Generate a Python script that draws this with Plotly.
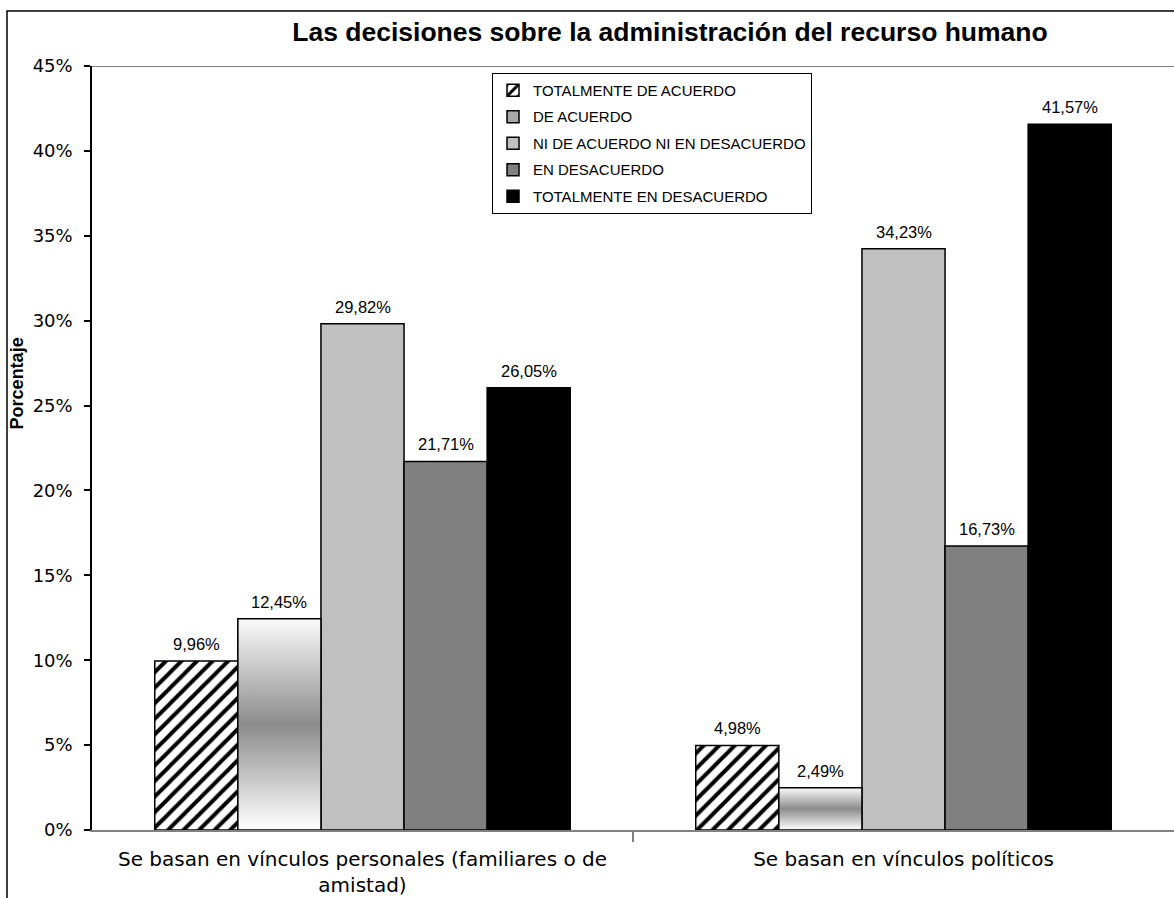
import plotly.graph_objects as go

# ---- data -------------------------------------------------------------
categories = [
    "Se basan en vínculos personales (familiares o de<br>amistad)",
    "Se basan en vínculos políticos",
]
series_names = [
    "TOTALMENTE DE ACUERDO",
    "DE ACUERDO",
    "NI DE ACUERDO NI EN DESACUERDO",
    "EN DESACUERDO",
    "TOTALMENTE EN DESACUERDO",
]
totalmente_de_acuerdo = [9.96, 4.98]
de_acuerdo = [12.45, 2.49]
ni_de_acuerdo_ni_en_desacuerdo = [29.82, 34.23]
en_desacuerdo = [21.71, 16.73]
totalmente_en_desacuerdo = [26.05, 41.57]
y_ticks = [0, 5, 10, 15, 20, 25, 30, 35, 40, 45]
y_tick_labels = ["0%", "5%", "10%", "15%", "20%", "25%", "30%", "35%", "40%", "45%"]

series_values = [
    totalmente_de_acuerdo,
    de_acuerdo,
    ni_de_acuerdo_ni_en_desacuerdo,
    en_desacuerdo,
    totalmente_en_desacuerdo,
]

# ---- bar geometry on a numeric category axis --------------------------
x_pos = list(range(len(categories)))
BAR_GAP = 0.232
n_series = len(series_values)
bar_w = (1 - BAR_GAP) / n_series


def left_offset(i):
    return -(1 - BAR_GAP) / 2 + i * bar_w


GRAD_SCALE = [[0.0, "#ffffff"], [0.5, "#8c8c8c"], [1.0, "#fbfbfb"]]
OUTLINE = dict(color="#000000", width=1.5)

fig = go.Figure()

styles = [
    dict(color="#ffffff",
         pattern=dict(shape="/", fgcolor="#000000", bgcolor="#ffffff",
                      fgopacity=1, fillmode="replace",
                      size=11, solidity=0.36)),
    dict(color="#a8a8a8"),
    dict(color="#c0c0c0"),
    dict(color="#808080"),
    dict(color="#000000"),
]

for i, (name, vals) in enumerate(zip(series_names, series_values)):
    fig.add_trace(go.Bar(
        x=x_pos, y=vals, name=name,
        width=bar_w, offset=left_offset(i),
        marker=dict(line=OUTLINE, **styles[i]),
        legendgroup=name,
        hoverinfo="name+y",
    ))

# vertical metallic shading for the "DE ACUERDO" bars
for xc, v in zip(x_pos, de_acuerdo):
    x0 = xc + left_offset(1)
    x1 = x0 + bar_w
    fig.add_trace(go.Scatter(
        x=[x0, x1, x1, x0, x0], y=[0, 0, v, v, 0],
        mode="lines", fill="toself",
        fillgradient=dict(type="vertical", colorscale=GRAD_SCALE),
        line=OUTLINE, showlegend=False, hoverinfo="skip",
    ))

# value labels above each bar
annotations = []
for i, vals in enumerate(series_values):
    for xc, v in zip(x_pos, vals):
        annotations.append(dict(
            x=xc + left_offset(i) + bar_w / 2, y=v,
            xref="x", yref="y",
            text=f"{v:.2f}".replace(".", ",") + "%",
            showarrow=False, yanchor="bottom", yshift=6,
            font=dict(family="Liberation Sans, Arial", size=16.5, color="#000000"),
        ))

# y axis title
annotations.append(dict(
    x=-0.069, y=0.585, xref="paper", yref="paper",
    xanchor="center", yanchor="middle",
    text="<b>Porcentaje</b>", textangle=-90, showarrow=False,
    font=dict(family="Liberation Sans, Arial", size=18, color="#000000"),
))

boundaries = [(a + b) / 2 for a, b in zip(x_pos[:-1], x_pos[1:])]

fig.update_layout(
    width=1174, height=898,
    margin=dict(l=92, r=0, t=66, b=68),
    paper_bgcolor="#ffffff", plot_bgcolor="#ffffff",
    barmode="overlay",
    title=dict(
        text="<b>Las decisiones sobre la administración del recurso humano</b>",
        x=0.5707, xanchor="center", y=0.9644, yanchor="middle",
        font=dict(family="Liberation Sans, Arial", size=26.5, color="#000000"),
    ),
    legend=dict(
        x=0.3697, y=0.991, xanchor="left", yanchor="top",
        bgcolor="#ffffff", bordercolor="#000000", borderwidth=1,
        font=dict(family="Liberation Sans, Arial", size=15, color="#000000"),
        traceorder="grouped", tracegroupgap=4, itemwidth=30,
    ),
    xaxis=dict(
        range=[-0.5, len(categories) - 0.5],
        tickmode="array", tickvals=x_pos, ticktext=categories,
        ticks="", showline=True, linecolor="#808080", linewidth=1.5,
        showgrid=False, zeroline=False,
        ticklabelstandoff=10,
        tickfont=dict(family="DejaVu Sans", size=20, color="#000000"),
        minor=dict(tickmode="array", tickvals=boundaries, ticks="outside",
                   ticklen=10, tickwidth=1.5, tickcolor="#808080",
                   showgrid=False),
    ),
    yaxis=dict(
        range=[0, 45], tickmode="array", tickvals=y_ticks, ticktext=y_tick_labels,
        ticks="outside", ticklen=6, tickwidth=1.5, tickcolor="#000000",
        showline=True, linecolor="#000000", linewidth=1.5,
        showgrid=False, zeroline=False,
        ticklabelstandoff=8,
        tickfont=dict(family="DejaVu Sans", size=18, color="#000000"),
    ),
    annotations=annotations,
    shapes=[
        # top boundary of the plotting area
        dict(type="line", xref="paper", yref="y", x0=0, x1=1, y0=45, y1=45,
             line=dict(color="#808080", width=2)),
        # chart frame
        dict(type="rect", xref="paper", yref="paper",
             x0=(7 - 92) / 1082, x1=1.05, y0=-0.2, y1=(830 - 11) / 764,
             line=dict(color="#000000", width=1.5), layer="below"),
    ],
    showlegend=True,
)

fig.write_html("out.html")
